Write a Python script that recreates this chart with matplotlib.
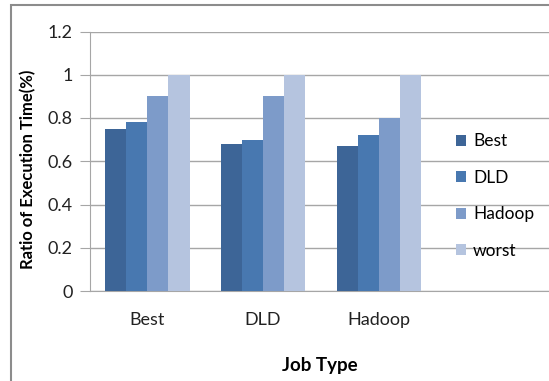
import matplotlib
matplotlib.use("Agg")
import numpy as np
from matplotlib import pyplot as plt
from matplotlib.patches import Rectangle

categories = ["Best", "DLD", "Hadoop"]
series_names = ["Best", "DLD", "Hadoop", "worst"]
best = [0.75, 0.68, 0.67]
dld = [0.78, 0.70, 0.72]
hadoop = [0.90, 0.90, 0.80]
worst = [1.0, 1.0, 1.0]
yticks = [0, 0.2, 0.4, 0.6, 0.8, 1.0, 1.2]
ytick_labels = ["0", "0.2", "0.4", "0.6", "0.8", "1", "1.2"]

colors = ["#3d6597", "#4878b0", "#7d9bc9", "#b5c4df"]

plt.rcParams['font.family'] = ['Lato', 'DejaVu Sans']

fig = plt.figure(figsize=(5.49, 3.81), dpi=100)
ax = fig.add_axes([89.5 / 549, 1 - 291 / 381, 1 - 89.5 / 549, (291 - 31.5) / 381])

x = np.arange(len(categories))
w = 0.182
for i, (vals, name) in enumerate(zip([best, dld, hadoop, worst], series_names)):
    ax.bar(x + (i - 1.5) * w, vals, w, color=colors[i], label=name, zorder=3)

ax.set_xlim(-0.5, 3.47)
ax.set_ylim(0, 1.2)
ax.set_yticks(yticks)
ax.set_yticklabels(ytick_labels, fontsize=13, color="#222222")
ax.set_xticks(x)
ax.set_xticklabels(categories, fontsize=13, color="#222222")
ax.yaxis.grid(True, color="#a6a6a6", linewidth=1, zorder=0)
ax.tick_params(axis="y", length=7, color="#a6a6a6", pad=5)
ax.tick_params(axis="x", length=0, pad=15)
for s in ["top", "right"]:
    ax.spines[s].set_visible(False)
ax.spines["left"].set_color("#a6a6a6")
ax.spines["bottom"].set_color("#a6a6a6")

fig.text(28 / 549, 1 - 169 / 381, "Ratio of Execution Time(%)", rotation=90,
         ha="center", va="center", fontsize=12, fontweight="bold")
fig.text(320 / 549, 1 - 366 / 381, "Job Type", ha="center", va="center",
         fontsize=13.5, fontweight="bold")

fig.legend(loc="center left", bbox_to_anchor=(440 / 549, 1 - 196 / 381),
           frameon=False, fontsize=12.5, handlelength=0.6, handleheight=0.6,
           handletextpad=0.4, labelspacing=1.18)

fig.patches.append(Rectangle((10.5 / 549, -0.1), 2, 1.1 - 4.5 / 381,
                             transform=fig.transFigure, fill=False,
                             edgecolor="#8c8c8c", linewidth=1.5))

fig.savefig("out.png", dpi=100)
